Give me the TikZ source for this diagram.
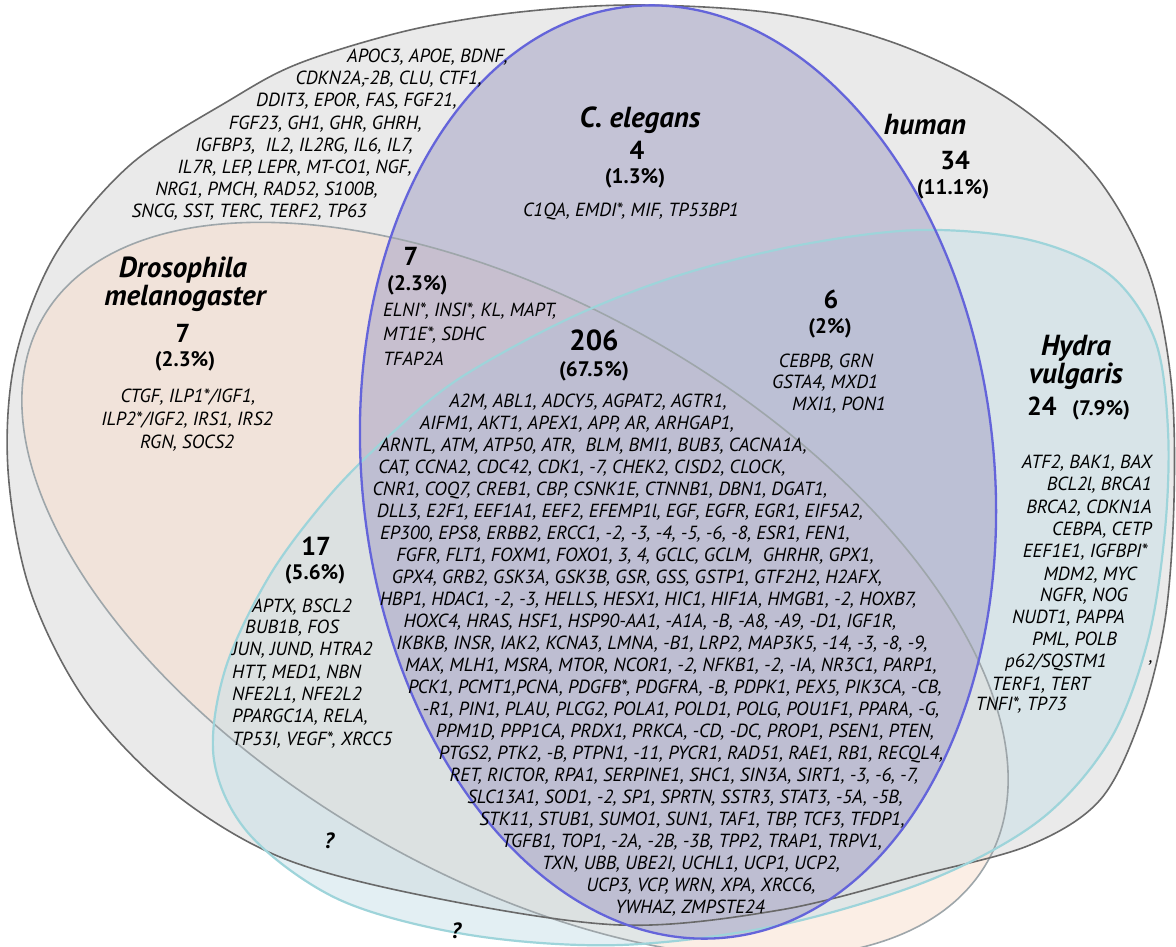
\documentclass[tikz,border=0pt]{standalone}
\usepackage{fontspec}
\setmainfont{PT Sans}
\definecolor{humanfill}{RGB}{234,234,234}
\definecolor{humanline}{RGB}{105,105,105}
\definecolor{drosfill}{RGB}{248,222,204}
\definecolor{drosline}{RGB}{158,166,170}
\definecolor{hydrafill}{RGB}{200,224,232}
\definecolor{hydraline}{RGB}{158,212,218}
\definecolor{celfill}{RGB}{166,163,198}
\definecolor{celline}{RGB}{100,100,218}
\newcommand{\humanpath}{plot[smooth cycle,tension=0.55] coordinates {(640,5) (780,14) (900,45) (1010,100) (1095,175) (1148,270) (1171,380) (1174,500) (1165,620) (1140,720) (1100,800) (1030,845) (920,875) (780,910) (620,925) (430,897) (280,857) (170,790) (85,700) (30,590) (8,470) (15,360) (55,255) (130,165) (230,100) (300,63) (410,30) (520,12)}}
\newcommand{\hydrapath}{plot[smooth cycle,tension=0.55] coordinates {(460,378) (570,318) (680,275) (800,245) (920,230) (1030,240) (1110,275) (1155,340) (1168,430) (1165,530) (1148,640) (1110,740) (1040,820) (930,880) (780,925) (620,945) (470,935) (340,900) (250,835) (214,760) (225,670) (270,575) (330,495) (390,435)}}
\begin{document}
\begin{tikzpicture}[x=1pt,y=-1pt,
  gene/.style={font=\fontsize{19}{22}\selectfont\itshape,inner sep=0pt},
  species/.style={font=\fontsize{29}{30}\selectfont\bfseries\itshape,inner sep=0pt},
  cnt/.style={font=\fontsize{26}{28}\selectfont\bfseries,inner sep=0pt},
  pct/.style={font=\fontsize{21}{24}\selectfont\bfseries,inner sep=0pt},
  qmark/.style={font=\fontsize{22}{24}\selectfont\bfseries\itshape,inner sep=0pt},
  drosT/.style={shift={(515,590)},rotate=-30},
  celT/.style={shift={(678,472)},rotate=6}]
\useasboundingbox (0,0) rectangle (1176,947);
\fill[white] (0,0) rectangle (1176,947);
% fills
\fill[humanfill] \humanpath;
\fill[drosfill,fill opacity=0.5,drosT] (0,0) ellipse [x radius=545, y radius=285];
\fill[hydrafill,fill opacity=0.5] \hydrapath;
\fill[celfill,fill opacity=0.55,celT] (0,0) ellipse [x radius=316, y radius=468];
% outlines
\draw[drosline,line width=1.6,drosT] (0,0) ellipse [x radius=545, y radius=285];
\draw[humanline,line width=1.6] \humanpath;
\draw[hydraline,line width=2.2] \hydrapath;
\draw[celline,line width=2.3,celT] (0,0) ellipse [x radius=316, y radius=468];

% human only
\node[gene,anchor=base east] (h1) at (508,63) {APOC3, APOE, BDNF,};
\node[gene,anchor=base east] (h2) at (482,85) {CDKN2A,-2B, CLU, CTF1,};
\node[gene,anchor=base east] (h3) at (457,107) {DDIT3, EPOR, FAS, FGF21,};
\node[gene,anchor=base east] (h4) at (422,130) {FGF23, GH1, GHR, GHRH,};
\node[gene,anchor=base east] (h5) at (413,152) {IGFBP3,\ \ IL2, IL2RG, IL6, IL7,};
\node[gene,anchor=base east] (h6) at (412,174) {IL7R, LEP, LEPR, MT-CO1, NGF,};
\node[gene,anchor=base east] (h7) at (378,196) {NRG1, PMCH, RAD52, S100B,};
\node[gene,anchor=base east] (h8) at (367,218) {SNCG, SST, TERC, TERF2, TP63};
\node[species,anchor=base] (hu) at (925,135) {human};
\node[cnt,anchor=base] (hu34) at (955,170) {34};
\node[pct,anchor=base] (hup) at (953,194) {(11.1\%)};

% C. elegans
\node[species,anchor=base] (ce) at (640,128) {C. elegans};
\node[cnt,anchor=base] (ce4) at (637,160) {4};
\node[pct,anchor=base] (cep) at (635,184) {(1.3\%)};
\node[gene,anchor=base] (ceg) at (631,216) {C1QA, EMDI*, MIF, TP53BP1};

% Drosophila
\node[species,anchor=base] (dr1) at (183,277) {Drosophila};
\node[species,anchor=base] (dr2) at (185,305) {melanogaster};
\node[cnt,anchor=base] (dr7) at (183,342) {7};
\node[pct,anchor=base] (drp) at (185,366) {(2.3\%)};
\node[gene,anchor=base] (drg1) at (188,402) {CTGF, ILP1*/IGF1,};
\node[gene,anchor=base] (drg2) at (187,425) {ILP2*/IGF2, IRS1, IRS2};
\node[gene,anchor=base] (drg3) at (187,448) {RGN, SOCS2};

% Drosophila + C. elegans
\node[cnt,anchor=base] (s7) at (411,265) {7};
\node[pct,anchor=base west] (s7p) at (387,290) {(2.3\%)};
\node[gene,anchor=base west] (s7g1) at (383,316) {ELNI*, INSI*, KL, MAPT,};
\node[gene,anchor=base west] (s7g2) at (383,340) {MT1E*, SDHC};
\node[gene,anchor=base west] (s7g3) at (383,365) {TFAP2A};

% C. elegans + Hydra
\node[cnt,anchor=base] (s6) at (831,308) {6};
\node[pct,anchor=base] (s6p) at (830,333) {(2\%)};
\node[gene,anchor=base] (s6g1) at (826,367) {CEBPB, GRN};
\node[gene,anchor=base] (s6g2) at (825,388) {GSTA4, MXD1};
\node[gene,anchor=base] (s6g3) at (839,410) {MXI1, PON1};

% all four
\node[cnt,anchor=base,font=\fontsize{29}{30}\selectfont\bfseries] (a206) at (594,350) {206};
\node[pct,anchor=base] (a206p) at (594,376) {(67.5\%)};
\node[gene,anchor=base] (c01) at (588,407) {A2M, ABL1, ADCY5, AGPAT2, AGTR1,};
\node[gene,anchor=base] (c02) at (577,429) {AIFM1, AKT1, APEX1, APP, AR, ARHGAP1,};
\node[gene,anchor=base] (c03) at (593,451) {ARNTL, ATM, ATP50, ATR,\ \ BLM, BMI1, BUB3, CACNA1A,};
\node[gene,anchor=base] (c04) at (582,473) {CAT, CCNA2, CDC42, CDK1, -7, CHEK2, CISD2, CLOCK,};
\node[gene,anchor=base] (c05) at (600,495) {CNR1, COQ7, CREB1, CBP, CSNK1E, CTNNB1, DBN1, DGAT1,};
\node[gene,anchor=base] (c06) at (620,517) {DLL3, E2F1, EEF1A1, EEF2, EFEMP1l, EGF, EGFR, EGR1, EIF5A2,};
\node[gene,anchor=base] (c07) at (615,539) {EP300, EPS8, ERBB2, ERCC1, -2, -3, -4, -5, -6, -8, ESR1, FEN1,};
\node[gene,anchor=base] (c08) at (635,561) {FGFR, FLT1, FOXM1, FOXO1, 3, 4, GCLC, GCLM,\ \ GHRHR, GPX1,};
\node[gene,anchor=base] (c09) at (637,583) {GPX4, GRB2, GSK3A, GSK3B, GSR, GSS, GSTP1, GTF2H2, H2AFX,};
\node[gene,anchor=base] (c10) at (648,605) {HBP1, HDAC1, -2, -3, HELLS, HESX1, HIC1, HIF1A, HMGB1, -2, HOXB7,};
\node[gene,anchor=base] (c11) at (650,627) {HOXC4, HRAS, HSF1, HSP90-AA1, -A1A, -B, -A8, -A9, -D1, IGF1R,};
\node[gene,anchor=base] (c12) at (662,649) {IKBKB, INSR, IAK2, KCNA3, LMNA, -B1, LRP2, MAP3K5, -14, -3, -8, -9,};
\node[gene,anchor=base] (c13) at (671,671) {MAX, MLH1, MSRA, MTOR, NCOR1, -2, NFKB1, -2, -IA, NR3C1, PARP1,};
\node[gene,anchor=base] (c14) at (675,693) {PCK1, PCMT1,PCNA, PDGFB*, PDGFRA, -B, PDPK1, PEX5, PIK3CA, -CB,};
\node[gene,anchor=base] (c15) at (681,715) {-R1, PIN1, PLAU, PLCG2, POLA1, POLD1, POLG, POU1F1, PPARA, -G,};
\node[gene,anchor=base] (c16) at (685,737) {PPM1D, PPP1CA, PRDX1, PRKCA, -CD, -DC, PROP1, PSEN1, PTEN,};
\node[gene,anchor=base] (c17) at (691,759) {PTGS2, PTK2, -B, PTPN1, -11, PYCR1, RAD51, RAE1, RB1, RECQL4,};
\node[gene,anchor=base] (c18) at (684,781) {RET, RICTOR, RPA1, SERPINE1, SHC1, SIN3A, SIRT1, -3, -6, -7,};
\node[gene,anchor=base] (c19) at (685,803) {SLC13A1, SOD1, -2, SP1, SPRTN, SSTR3, STAT3, -5A, -5B,};
\node[gene,anchor=base] (c20) at (692,825) {STK11, STUB1, SUMO1, SUN1, TAF1, TBP, TCF3, TFDP1,};
\node[gene,anchor=base] (c21) at (692,847) {TGFB1, TOP1, -2A, -2B, -3B, TPP2, TRAP1, TRPV1,};
\node[gene,anchor=base] (c22) at (691,869) {TXN, UBB, UBE2I, UCHL1, UCP1, UCP2,};
\node[gene,anchor=base] (c23) at (701,891) {UCP3, VCP, WRN, XPA, XRCC6,};
\node[gene,anchor=base] (c24) at (690,913) {YWHAZ, ZMPSTE24};

% Drosophila + Hydra
\node[cnt,anchor=base] (s17) at (316,555) {17};
\node[pct,anchor=base] (s17p) at (315,579) {(5.6\%)};
\node[gene,anchor=base west] (d1) at (252,612) {APTX, BSCL2};
\node[gene,anchor=base west] (d2) at (245,633) {BUB1B, FOS};
\node[gene,anchor=base west] (d3) at (232,655) {JUN, JUND, HTRA2};
\node[gene,anchor=base west] (d4) at (232,678) {HTT, MED1, NBN};
\node[gene,anchor=base west] (d5) at (232,700) {NFE2L1, NFE2L2};
\node[gene,anchor=base west] (d6) at (232,722) {PPARGC1A, RELA,};
\node[gene,anchor=base west] (d7) at (232,745) {TP53I, VEGF*, XRCC5};

% Hydra
\node[species,anchor=base] (hy1) at (1076,355) {Hydra};
\node[species,anchor=base] (hy2) at (1076,383) {vulgaris};
\node[cnt,anchor=base west] (hy24) at (1027,415) {24};
\node[pct,anchor=base west] (hyp) at (1072,415) {(7.9\%)};
\node[gene,anchor=base east] (y01) at (1152,468) {ATF2, BAK1, BAX};
\node[gene,anchor=base east] (y02) at (1152,490) {BCL2l, BRCA1};
\node[gene,anchor=base east] (y03) at (1152,513) {BRCA2, CDKN1A};
\node[gene,anchor=base east] (y04) at (1152,535) {CEBPA, CETP};
\node[gene,anchor=base east] (y05) at (1148,557) {EEF1E1, IGFBPI*};
\node[gene,anchor=base east] (y06) at (1137,580) {MDM2, MYC};
\node[gene,anchor=base east] (y07) at (1128,601) {NGFR, NOG};
\node[gene,anchor=base east] (y08) at (1125,623) {NUDT1, PAPPA};
\node[gene,anchor=base east] (y09) at (1117,645) {PML, POLB};
\node[gene,anchor=base east] (y10) at (1107,667) {p62/SQSTM1};
\node[gene,anchor=base east] (y11) at (1090,690) {TERF1, TERT};
\node[gene,anchor=base east] (y12) at (1067,710) {TNFI*, TP73};
\node[gene,anchor=base] (ycomma) at (1151,662) {,};

% question marks
\node[qmark,anchor=base] (q1) at (329,848) {?};
\node[qmark,anchor=base] (q2) at (456,938) {?};
\end{tikzpicture}
\end{document}
